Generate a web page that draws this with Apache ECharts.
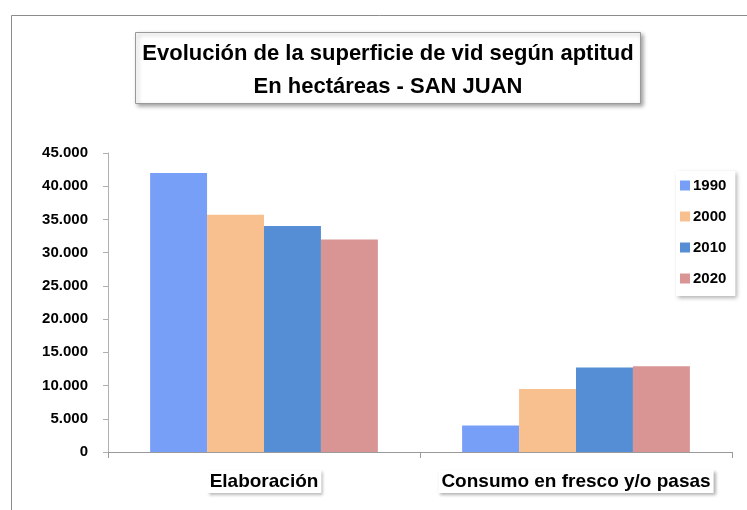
<!DOCTYPE html>
<html>
<head>
<meta charset="utf-8">
<script src="https://cdn.jsdelivr.net/npm/echarts@6/dist/echarts.min.js"></script>
<style>html,body{margin:0;padding:0;background:#fff;}#c{width:747px;height:510px;}</style>
</head>
<body>
<div id="c"></div>
<script>
const categories = ['Elaboración', 'Consumo en fresco y/o pasas'];
const seriesNames = ['1990', '2000', '2010', '2020'];
const values1990 = [42000, 4000];
const values2000 = [35700, 9500];
const values2010 = [34000, 12700];
const values2020 = [32000, 12900];
const yTicks = [0, 5000, 10000, 15000, 20000, 25000, 30000, 35000, 40000, 45000];

const colors = ['#779FF7', '#F9C08F', '#558ED5', '#D99594'];
const allValues = [values1990, values2000, values2010, values2020];
const FONT = '"Liberation Sans", Arial, sans-serif';

const chart = echarts.init(document.getElementById('c'), null, {renderer: 'canvas'});
chart.setOption({
  animation: false,
  backgroundColor: '#fff',
  textStyle: {fontFamily: FONT},
  graphic: [{
    type: 'rect', left: 9, top: 13, shape: {width: 800, height: 600},
    style: {fill: 'none', stroke: '#8c8c8c', lineWidth: 1}, silent: true, z: -10
  }],
  title: {
    text: 'Evolución de la superficie de vid según aptitud\nEn hectáreas - SAN JUAN',
    left: 381, top: 32,
    textAlign: 'center',
    padding: [5, 7, 1, 7],
    backgroundColor: '#fff',
    borderColor: '#999',
    borderWidth: 1,
    shadowBlur: 4, shadowColor: 'rgba(0,0,0,0.35)', shadowOffsetX: 2, shadowOffsetY: 2,
    textStyle: {fontFamily: FONT, fontSize: 22, fontWeight: 'bold', color: '#000', lineHeight: 33}
  },
  legend: {
    data: seriesNames,
    orient: 'vertical',
    left: 676, top: 171,
    itemWidth: 10, itemHeight: 10, itemGap: 16,
    icon: 'rect',
    padding: [7, 9, 10, 4],
    backgroundColor: '#fff',
    shadowBlur: 4, shadowColor: 'rgba(0,0,0,0.3)', shadowOffsetX: 2, shadowOffsetY: 2,
    textStyle: {fontFamily: FONT, fontSize: 15, fontWeight: 'bold', color: '#000', padding: [0, 0, 0, -2]}
  },
  grid: {left: 108, right: 15, top: 153, bottom: 58, containLabel: false},
  xAxis: {
    type: 'category',
    data: categories,
    axisLine: {lineStyle: {color: '#9a9a9a', width: 1}},
    axisTick: {show: true, length: 6, lineStyle: {color: '#9a9a9a'}},
    axisLabel: {
      interval: 0,
      fontFamily: FONT, fontSize: 19, fontWeight: 'bold', color: '#000', margin: 18,
      backgroundColor: '#fff', padding: [2, 3, 2, 3],
      shadowBlur: 3, shadowColor: 'rgba(0,0,0,0.3)', shadowOffsetX: 2, shadowOffsetY: 2
    }
  },
  yAxis: {
    type: 'value',
    min: yTicks[0], max: yTicks[yTicks.length - 1], interval: yTicks[1] - yTicks[0],
    axisLine: {show: true, lineStyle: {color: '#b0b0b0'}},
    axisTick: {show: true, length: 5, lineStyle: {color: '#b0b0b0'}},
    splitLine: {show: false},
    axisLabel: {
      fontFamily: FONT, fontSize: 15, fontWeight: 'bold', color: '#000', margin: 20,
      formatter: v => v.toLocaleString('de-DE')
    }
  },
  series: seriesNames.map((n, i) => ({
    name: n, type: 'bar', data: allValues[i],
    barGap: '0%', barCategoryGap: '27%',
    itemStyle: {color: colors[i]}
  }))
});
</script>
</body>
</html>
